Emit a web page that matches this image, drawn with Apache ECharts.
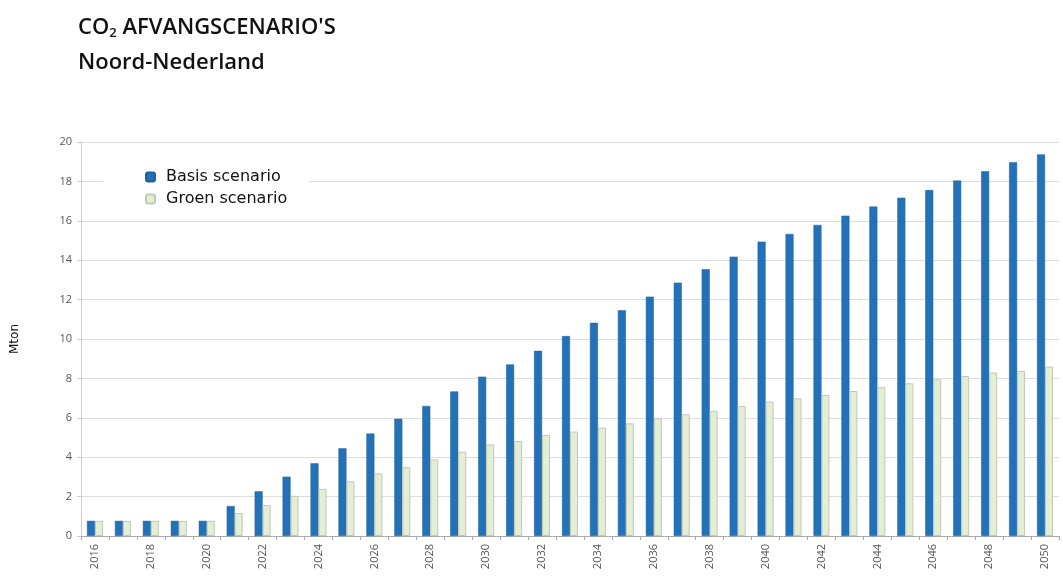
<!DOCTYPE html>
<html>
<head>
<meta charset="utf-8">
<title>CO2 afvangscenario's</title>
<script src="https://cdn.jsdelivr.net/npm/echarts@6/dist/echarts.min.js"></script>
<style>
  html, body { margin: 0; padding: 0; background: #fff; }
  #main { width: 1063px; height: 581px; }
</style>
</head>
<body>
<div id="main"></div>
<script>
// jaren en waarden (Mton)
var years = [];
for (var y = 2016; y <= 2050; y++) years.push(String(y));

var basisScenario = [0.77, 0.77, 0.77, 0.77, 0.77, 1.52, 2.27, 3.01, 3.69, 4.45,
  5.2, 5.95, 6.6, 7.34, 8.09, 8.71, 9.4, 10.15, 10.82, 11.46,
  12.15, 12.86, 13.54, 14.18, 14.94, 15.33, 15.79, 16.26, 16.72, 17.17,
  17.56, 18.04, 18.51, 18.97, 19.37];

var groenScenario = [0.77, 0.77, 0.77, 0.77, 0.77, 1.17, 1.57, 2.04, 2.39, 2.78,
  3.18, 3.49, 3.89, 4.28, 4.65, 4.82, 5.13, 5.3, 5.5, 5.72,
  5.97, 6.18, 6.35, 6.6, 6.82, 6.99, 7.16, 7.36, 7.55, 7.75,
  7.95, 8.12, 8.3, 8.38, 8.6];

var yTicks = { min: 0, max: 20, interval: 2 };

var textFont = 'DejaVu Sans';

var chart = echarts.init(document.getElementById('main'));
var option = {
  animation: false,
  textStyle: { fontFamily: 'Open Sans' },
  title: {
    left: 73,
    top: 5,
    text: "CO{sub|2} AFVANGSCENARIO'S\nNoord-Nederland",
    textStyle: {
      fontFamily: 'Open Sans',
      fontSize: 22,
      fontWeight: 600,
      color: '#111',
      lineHeight: 35,
      rich: {
        sub: { fontFamily: 'Open Sans', fontSize: 13, fontWeight: 600, color: '#111', padding: [12, 0, 0, 0] }
      }
    }
  },
  legend: {
    orient: 'vertical',
    left: 103,
    top: 161,
    itemWidth: 9,
    itemHeight: 9,
    itemGap: 6,
    padding: [8, 22, 8, 42],
    backgroundColor: '#fff',
    textStyle: { fontSize: 16, color: '#111', fontFamily: textFont, padding: [0, 0, 0, 6] },
    data: ['Basis scenario', 'Groen scenario']
  },
  grid: { left: 81, right: 4, top: 142, bottom: 45, containLabel: false },
  xAxis: {
    type: 'category',
    data: years,
    axisLine: { lineStyle: { color: '#aaa' } },
    axisTick: { show: true, interval: 0, length: 4, lineStyle: { color: '#aaa' } },
    axisLabel: { interval: 1, rotate: 90, fontSize: 11, color: '#555', margin: 8 }
  },
  yAxis: {
    type: 'value',
    min: yTicks.min,
    max: yTicks.max,
    interval: yTicks.interval,
    name: 'Mton',
    nameLocation: 'middle',
    nameRotate: 90,
    nameGap: 60,
    nameTextStyle: { fontSize: 12, color: '#111', fontFamily: textFont },
    axisLine: { show: true, lineStyle: { color: '#ccc' } },
    axisTick: { show: true, length: 4, lineStyle: { color: '#ccc' } },
    axisLabel: { fontSize: 11, color: '#555', margin: 9 },
    splitLine: { lineStyle: { color: '#ddd' } }
  },
  series: [
    {
      name: 'Basis scenario',
      type: 'bar',
      data: basisScenario,
      barWidth: 8,
      barGap: '0%',
      itemStyle: { color: '#2372b8', borderColor: '#1d60a0', borderWidth: 0.5 }
    },
    {
      name: 'Groen scenario',
      type: 'bar',
      data: groenScenario,
      barWidth: 8,
      itemStyle: { color: '#e4edd5', borderColor: '#c2c9b3', borderWidth: 1 }
    }
  ]
};
chart.setOption(option);
</script>
</body>
</html>
